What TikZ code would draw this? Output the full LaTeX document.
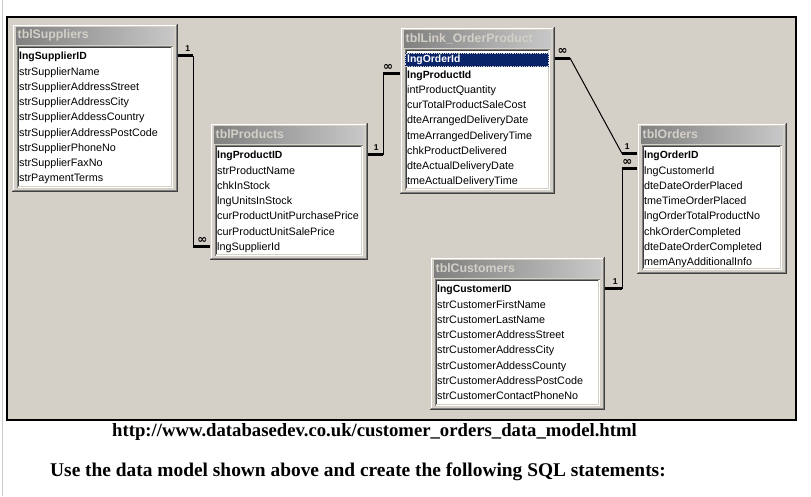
\documentclass[tikz,border=0pt]{standalone}
\usepackage{fontspec}
\setmainfont{Liberation Serif}
\newfontfamily\tfont{Liberation Sans}
\newfontfamily\symf{DejaVu Sans}
\usetikzlibrary{calc}
\definecolor{winbg}{HTML}{D4D0C8}
\definecolor{wdark}{HTML}{808080}
\definecolor{wdarker}{HTML}{404040}
\definecolor{tbarA}{HTML}{808080}
\definecolor{tbarB}{HTML}{C8C8C8}
\definecolor{selblue}{HTML}{0A246A}
\definecolor{pageline}{HTML}{C8C8C8}
\tikzset{
  rowtxt/.style={anchor=west, inner sep=0pt, text height=8pt, text depth=2.5pt,
    font=\tfont\fontsize{10.8}{13}\selectfont},
  keytxt/.style={rowtxt, font=\tfont\bfseries\fontsize{10.4}{13}\selectfont},
  seltxt/.style={keytxt, text=white},
  titletxt/.style={anchor=west, inner sep=0pt, text=winbg,
    font=\tfont\bfseries\fontsize{12.3}{14}\selectfont},
  tblbox/.style={anchor=north west, inner sep=0pt, outer sep=0pt, fill=winbg},
  relthick/.style={line width=3pt, black},
  relthin/.style={line width=1pt, black},
  onelbl/.style={inner sep=0pt, font=\tfont\bfseries\fontsize{8.5}{8.5}\selectfont},
  manylbl/.style={inner sep=0pt, font=\symf\bfseries\fontsize{12}{12}\selectfont},
  bottomtxt/.style={anchor=west, inner sep=0pt, font=\bfseries\fontsize{18.7}{21}\selectfont}
}
% #1 name, #2 x1, #3 y1, #4 x2, #5 y2, #6 title
\newcommand\dbframe[6]{%
  \node[tblbox, minimum width={(#4-#2)*1pt}, minimum height={(#5-#3)*1pt}] (#1) at (#2,#3) {};
  % raised window border
  \draw[wdarker, line width=1pt] ({#2},{#5-0.5}) -- ({#4-0.5},{#5-0.5}) -- ({#4-0.5},{#3});
  \draw[wdark, line width=1pt] ({#2+1},{#5-1.5}) -- ({#4-1.5},{#5-1.5}) -- ({#4-1.5},{#3+1});
  \draw[white, line width=1pt] ({#2+1.5},{#5-2}) -- ({#2+1.5},{#3+1.5}) -- ({#4-2},{#3+1.5});
  % title bar
  \shade[left color=tbarA, right color=tbarB] ({#2+4},{#3+3}) rectangle ({#4-4},{#3+20});
  \node[titletxt] (#1-title) at ({#2+5.5},{#3+11.5}) {#6};
  % sunken list box
  \fill[white] ({#2+5},{#3+22}) rectangle ({#4-5},{#5-4});
  \draw[wdark, line width=1pt] ({#2+5.5},{#5-4}) -- ({#2+5.5},{#3+22.5}) -- ({#4-5},{#3+22.5});
  \draw[wdarker, line width=1pt] ({#2+6.5},{#5-5}) -- ({#2+6.5},{#3+23.5}) -- ({#4-6},{#3+23.5});
  \draw[winbg, line width=1pt] ({#2+6},{#5-5.5}) -- ({#4-6.5},{#5-5.5}) -- ({#4-6.5},{#3+23});
}
% #1 name, #2 x1, #3 y1, #4 first index, #5 style, #6 rows
\newcommand\dbrows[6]{%
  \foreach \r [count=\i from #4] in {#6} {
    \node[#5] (#1-\i) at ({#2+7},{#3+33+(\i-1)*15.25}) {\r};
  }
}
\begin{document}
\begin{tikzpicture}[x=1pt, y=-1pt]
\useasboundingbox (0,0) rectangle (811,496);
\fill[white] (0,0) rectangle (811,496);
\draw[pageline, line width=1pt] (2.5,0) -- (2.5,496);
\node[anchor=north west, inner sep=0pt, fill=winbg, draw=black, line width=1.5pt,
  minimum width=789pt, minimum height=403pt] (canvas) at (6,16) {};

% tables
\dbframe{sup}{12}{24}{178}{192}{tblSuppliers}
\dbrows{sup}{12}{24}{1}{keytxt}{lngSupplierID}
\dbrows{sup}{12}{24}{2}{rowtxt}{strSupplierName,strSupplierAddressStreet,strSupplierAddressCity,strSupplierAddessCountry,strSupplierAddressPostCode,strSupplierPhoneNo,strSupplierFaxNo,strPaymentTerms}

\dbframe{prod}{210}{123}{368}{260}{tblProducts}
\dbrows{prod}{210}{123}{1}{keytxt}{lngProductID}
\dbrows{prod}{210}{123}{2}{rowtxt}{strProductName,chkInStock,lngUnitsInStock,curProductUnitPurchasePrice,curProductUnitSalePrice,lngSupplierId}

\dbframe{link}{400}{27}{555}{194}{tblLink\_OrderProduct}
\fill[selblue] (405,53) rectangle (549,67);
\draw[winbg, densely dotted, line width=0.8pt] (405.5,53.5) rectangle (548.5,66.5);
\dbrows{link}{400}{27}{1}{seltxt}{lngOrderId}
\dbrows{link}{400}{27}{2}{keytxt}{lngProductId}
\dbrows{link}{400}{27}{3}{rowtxt}{intProductQuantity,curTotalProductSaleCost,dteArrangedDeliveryDate,tmeArrangedDeliveryTime,chkProductDelivered,dteActualDeliveryDate,tmeActualDeliveryTime}

\dbframe{ord}{637}{123}{787}{274}{tblOrders}
\dbrows{ord}{637}{123}{1}{keytxt}{lngOrderID}
\dbrows{ord}{637}{123}{2}{rowtxt}{lngCustomerId,dteDateOrderPlaced,tmeTimeOrderPlaced,lngOrderTotalProductNo,chkOrderCompleted,dteDateOrderCompleted,memAnyAdditionalInfo}

\dbframe{cust}{430}{257}{605}{410}{tblCustomers}
\dbrows{cust}{430}{257}{1}{keytxt}{lngCustomerID}
\dbrows{cust}{430}{257}{2}{rowtxt}{strCustomerFirstName,strCustomerLastName,strCustomerAddressStreet,strCustomerAddressCity,strCustomerAddessCounty,strCustomerAddressPostCode,strCustomerContactPhoneNo}

% relationships
\draw[relthick] ($(sup.east |- sup-1)+(0,-1.5)$) -- ++(15,0) coordinate (j1a)
  node[pos=0.65, above=2.5pt, onelbl] (r1one) {1};
\draw[relthick] ($(prod.west |- prod-7)+(0,-1)$) -- ++(-17,0) coordinate (j1b)
  node[pos=0.45, above=2pt, manylbl] (r1many) {∞};
\draw[relthin] (j1a) -- (j1b);

\draw[relthick] ($(prod.east |- prod-1)+(0,-1.5)$) -- ++(15,0) coordinate (j2a)
  node[pos=0.55, above=2.5pt, onelbl] (r2one) {1};
\draw[relthick] ($(link.west |- link-2)+(0,-1.5)$) -- ++(-17,0) coordinate (j2b)
  node[pos=0.7, above=2pt, manylbl] (r2many) {∞};
\draw[relthin] (j2a) -- (j2b);

\draw[relthick] ($(link.east |- link-1)+(0,-2)$) -- ++(15,0) coordinate (j3a)
  node[pos=0.5, above=2pt, manylbl] (r3many) {∞};
\draw[relthick] ($(ord.west |- ord-1)+(0,-2.5)$) -- ++(-15,0) coordinate (j3b)
  node[pos=0.65, above=2.5pt, onelbl] (r3one) {1};
\draw[relthin] (j3a) -- (j3b);

\draw[relthick] ($(cust.east |- cust-1)+(0,-1.5)$) -- ++(17,0) coordinate (j4a)
  node[pos=0.6, above=2.5pt, onelbl] (r4one) {1};
\draw[relthick] ($(ord.west |- ord-2)+(0,-2.5)$) -- ++(-15,0) coordinate (j4b)
  node[pos=0.65, above=2pt, manylbl] (r4many) {∞};
\draw[relthin] (j4a) -- (j4b);

% text below
\node[bottomtxt] (url) at (112,432) {http://www.databasedev.co.uk/customer\_orders\_data\_model.html};
\node[bottomtxt, font=\bfseries\fontsize{19.4}{21}\selectfont] (task) at (50,472) {Use the data model shown above and create the following SQL statements:};
\end{tikzpicture}
\end{document}
